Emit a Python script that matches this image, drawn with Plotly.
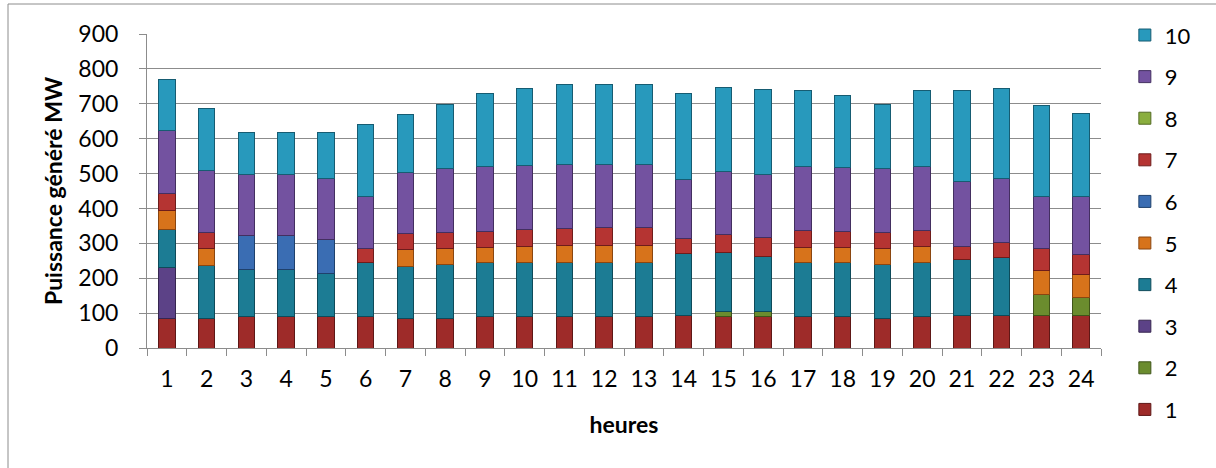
import plotly.graph_objects as go

hours = [str(h) for h in range(1, 25)]

s1 = [84, 86, 91, 91, 91, 89, 86, 86, 90, 90, 90, 91, 91, 94, 91, 91, 89, 89, 86, 89, 94, 94, 94, 94]
s2 = [0, 0, 0, 0, 0, 0, 0, 0, 0, 0, 0, 0, 0, 0, 14, 14, 0, 0, 0, 0, 0, 0, 59, 50]
s3 = [148, 0, 0, 0, 0, 0, 0, 0, 0, 0, 0, 0, 0, 0, 0, 0, 0, 0, 0, 0, 0, 0, 0, 0]
s4 = [108, 151, 134, 134, 123, 157, 148, 153, 154, 154, 156, 155, 155, 178, 169, 158, 155, 155, 153, 155, 161, 166, 0, 0]
s5 = [55, 48, 0, 0, 0, 0, 47, 45, 43, 46, 47, 48, 48, 0, 0, 0, 43, 43, 45, 46, 0, 0, 70, 68]
s6 = [0, 0, 97, 97, 97, 0, 0, 0, 0, 0, 0, 0, 0, 0, 0, 0, 0, 0, 0, 0, 0, 0, 0, 0]
s7 = [47, 45, 0, 0, 0, 39, 47, 46, 48, 49, 50, 50, 50, 42, 51, 53, 51, 48, 46, 48, 37, 41, 61, 56]
s8 = [0, 0, 0, 0, 0, 0, 0, 0, 0, 0, 0, 0, 0, 0, 0, 0, 0, 0, 0, 0, 0, 0, 0, 0]
s9 = [180, 180, 174, 174, 174, 148, 174, 184, 184, 183, 182, 181, 181, 168, 182, 182, 181, 181, 184, 181, 186, 184, 151, 167]
s10 = [148, 177, 123, 123, 134, 209, 168, 184, 211, 223, 229, 229, 231, 248, 240, 244, 218, 208, 184, 220, 261, 260, 261, 238]

series_names = ["1", "2", "3", "4", "5", "6", "7", "8", "9", "10"]
series_values = [s1, s2, s3, s4, s5, s6, s7, s8, s9, s10]
colors = ["#9E2B29", "#6B8C2E", "#5C4287", "#1C7C94", "#D7731B",
          "#3A6DB3", "#B53432", "#8AAE3E", "#7352A0", "#2899BC"]
edges = ["#5E1716", "#3F5419", "#362650", "#0E4A59", "#8A4610",
         "#1F416C", "#6E1C1B", "#536A22", "#432F60", "#165C72"]

FONT = "Lato, Calibri, Carlito, 'Open Sans', sans-serif"

fig = go.Figure()
n = len(series_names)
for i, (name, vals, c, e) in enumerate(zip(series_names, series_values, colors, edges)):
    fig.add_trace(go.Bar(
        x=hours,
        y=[v if v else None for v in vals],
        name=name,
        legendgroup=name,
        legendrank=n - i,
        marker=dict(color=c, line=dict(color=e, width=1)),
    ))

fig.update_layout(
    width=1216, height=468,
    barmode="stack",
    bargap=0.585,
    plot_bgcolor="white",
    paper_bgcolor="white",
    font=dict(family=FONT, size=22, color="black"),
    margin=dict(l=147, r=115, t=34, b=120, autoexpand=False),
    legend=dict(
        traceorder="grouped",
        tracegroupgap=10,
        x=1.025, xanchor="left",
        y=1.063, yanchor="top",
        font=dict(size=22),
        bgcolor="rgba(0,0,0,0)",
        maxheight=460,
    ),
    xaxis=dict(
        type="category",
        automargin=False,
        showgrid=False,
        showline=True, linecolor="#8c8c8c", linewidth=1,
        ticks="outside", tickson="boundaries", ticklen=7, tickcolor="#8c8c8c",
        ticklabelstandoff=10,
        tickfont=dict(size=23),
        title=dict(text="<b>heures</b>", font=dict(size=23), standoff=26),
    ),
    yaxis=dict(
        range=[0, 900], dtick=100,
        automargin=False,
        showgrid=True, gridcolor="#8c8c8c", gridwidth=1,
        showline=True, linecolor="#8c8c8c", linewidth=1,
        ticks="outside", ticklen=7, tickcolor="#8c8c8c",
        ticklabelstandoff=16,
        tickfont=dict(size=23),
        zeroline=False,
        title=dict(text="<b>Puissance généré MW</b>", font=dict(size=23), standoff=9),
    ),
    shapes=[dict(type="rect", xref="paper", yref="paper",
                 x0=-0.1457, x1=1.3, y0=-0.6, y1=1.0955,
                 line=dict(color="#8c8c8c", width=1), fillcolor="rgba(0,0,0,0)",
                 layer="below")],
)

fig.write_html("out.html", config={"displayModeBar": False},
               post_script="document.body.style.margin='0';")
